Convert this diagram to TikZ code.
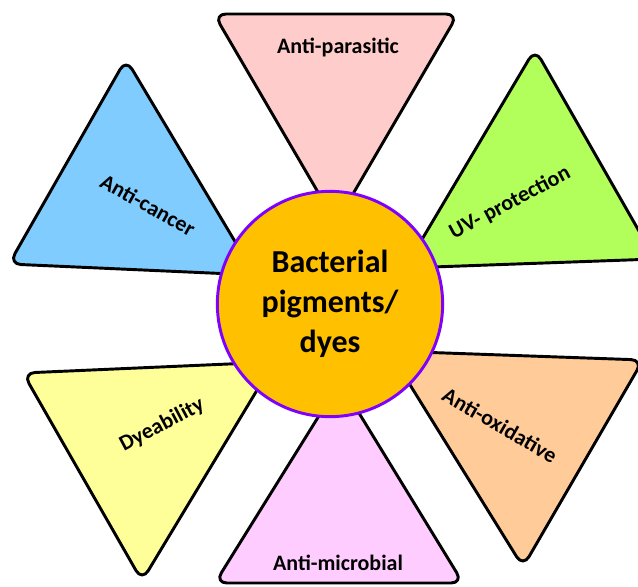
\documentclass[tikz,border=0pt]{standalone}
\usepackage{fontspec}
\setmainfont{Carlito}
\usepackage{tikz}
\usetikzlibrary{shapes,calc}

\definecolor{pinkTop}{HTML}{FFCCCC}
\definecolor{blueCancer}{HTML}{80CCFF}
\definecolor{greenUV}{HTML}{B2FF5C}
\definecolor{yellowDye}{HTML}{FFFF99}
\definecolor{orangeOx}{HTML}{FFCC99}
\definecolor{pinkMicro}{HTML}{FFCCFF}
\definecolor{hubGold}{HTML}{FFC000}
\definecolor{hubRim}{HTML}{8000FF}

\begin{document}
\begin{tikzpicture}[x=0.75pt, y=-0.75pt,
    petal/.style={draw=black, line width=2.2pt, rounded corners=9pt, line join=round},
    petaltext/.style={font=\bfseries\fontsize{16.5}{19}\selectfont, inner sep=0pt}]
    % Frame
    \clip (0,0) rectangle (638,586);

    % Petals
    \draw[petal, fill=pinkTop] (214,14) -- (458,14) -- (336,223) -- cycle;
    \draw[petal, fill=blueCancer] (126,59) -- (255,275) -- (9,264) -- cycle;
    \draw[petal, fill=greenUV] (535,49) -- (655,259) -- (405,268) -- cycle;
    \draw[petal, fill=yellowDye] (23,373) -- (274,362) -- (142,581) -- cycle;
    \draw[petal, fill=orangeOx] (389,351) -- (643,360) -- (523,567) -- cycle;
    \draw[petal, fill=pinkMicro] (340,382) -- (463,583) -- (215,583) -- cycle;

    % Centre
    \node (hub) [circle, draw=hubRim, fill=hubGold, line width=2.2pt,
        minimum size=169pt, align=center,
        font=\bfseries\fontsize{24}{30}\selectfont] at (330,304)
        {Bacterial\\pigments/\\dyes};

    % Labels
    \node (parasitic) [petaltext] at (338,47) {Anti-parasitic};
    \node (cancer) [petaltext, rotate=-29] at (148,205) {Anti-cancer};
    \node (uv) [petaltext, rotate=28] at (510,203) {UV- protection};
    \node (dye) [petaltext, rotate=28] at (162,425) {Dyeability};
    \node (oxid) [petaltext, rotate=-30] at (500,425) {Anti-oxidative};
    \node (microbial) [petaltext] at (338,563) {Anti-microbial};
\end{tikzpicture}
\end{document}
